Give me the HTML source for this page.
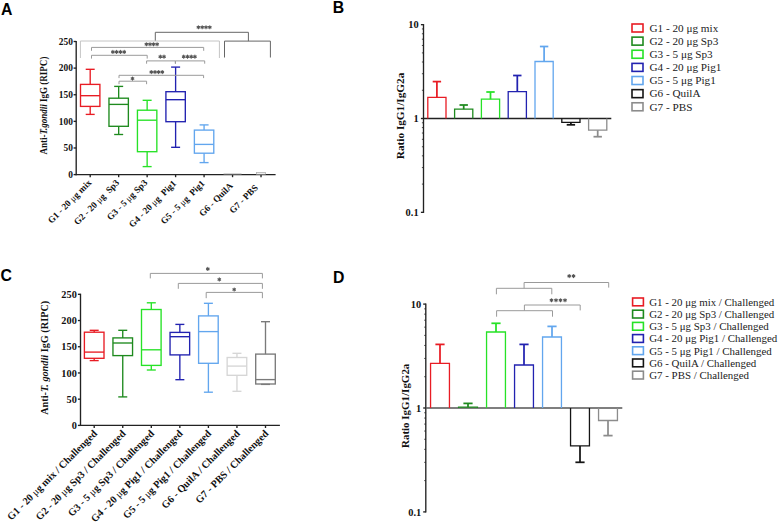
<!DOCTYPE html>
<html><head><meta charset="utf-8"><style>
html,body{margin:0;padding:0;background:#fff;width:778px;height:523px;overflow:hidden;font-family:"Liberation Serif",serif;}
svg{display:block}
</style></head><body>
<svg width="778" height="523" viewBox="0 0 778 523">
<rect width="778" height="523" fill="#fff"/>
<text x="0.90" y="15.20" font-family='"Liberation Sans", sans-serif' font-size="15.8" font-weight="bold" text-anchor="start" fill="#000">A</text>
<line x1="76.20" y1="40.90" x2="76.20" y2="175.20" stroke="#222" stroke-width="1.35"/>
<line x1="75.60" y1="174.60" x2="275.60" y2="174.60" stroke="#222" stroke-width="1.35"/>
<line x1="73.60" y1="174.60" x2="76.20" y2="174.60" stroke="#222" stroke-width="1.35"/>
<text x="72.90" y="177.90" font-family='"Liberation Serif", serif' font-size="9.4" font-weight="bold" text-anchor="end" fill="#111">0</text>
<line x1="73.60" y1="147.98" x2="76.20" y2="147.98" stroke="#222" stroke-width="1.35"/>
<text x="72.90" y="151.28" font-family='"Liberation Serif", serif' font-size="9.4" font-weight="bold" text-anchor="end" fill="#111">50</text>
<line x1="73.60" y1="121.36" x2="76.20" y2="121.36" stroke="#222" stroke-width="1.35"/>
<text x="72.90" y="124.66" font-family='"Liberation Serif", serif' font-size="9.4" font-weight="bold" text-anchor="end" fill="#111">100</text>
<line x1="73.60" y1="94.74" x2="76.20" y2="94.74" stroke="#222" stroke-width="1.35"/>
<text x="72.90" y="98.04" font-family='"Liberation Serif", serif' font-size="9.4" font-weight="bold" text-anchor="end" fill="#111">150</text>
<line x1="73.60" y1="68.12" x2="76.20" y2="68.12" stroke="#222" stroke-width="1.35"/>
<text x="72.90" y="71.42" font-family='"Liberation Serif", serif' font-size="9.4" font-weight="bold" text-anchor="end" fill="#111">200</text>
<line x1="73.60" y1="41.50" x2="76.20" y2="41.50" stroke="#222" stroke-width="1.35"/>
<text x="72.90" y="44.80" font-family='"Liberation Serif", serif' font-size="9.4" font-weight="bold" text-anchor="end" fill="#111">250</text>
<line x1="90.20" y1="174.60" x2="90.20" y2="177.20" stroke="#222" stroke-width="1.35"/>
<line x1="118.67" y1="174.60" x2="118.67" y2="177.20" stroke="#222" stroke-width="1.35"/>
<line x1="147.14" y1="174.60" x2="147.14" y2="177.20" stroke="#222" stroke-width="1.35"/>
<line x1="175.61" y1="174.60" x2="175.61" y2="177.20" stroke="#222" stroke-width="1.35"/>
<line x1="204.08" y1="174.60" x2="204.08" y2="177.20" stroke="#222" stroke-width="1.35"/>
<line x1="232.55" y1="174.60" x2="232.55" y2="177.20" stroke="#222" stroke-width="1.35"/>
<line x1="261.02" y1="174.60" x2="261.02" y2="177.20" stroke="#222" stroke-width="1.35"/>
<text x="47.00" y="105.60" font-family='"Liberation Serif", serif' font-size="9.6" font-weight="bold" text-anchor="middle" fill="#111" transform="rotate(-90 47.00 105.60)" textLength="98" lengthAdjust="spacingAndGlyphs">Anti-<tspan font-style="italic">T.gondii</tspan> IgG (RIPC)</text>
<line x1="90.20" y1="69.30" x2="90.20" y2="84.40" stroke="#e81c24" stroke-width="1.35"/>
<line x1="90.20" y1="106.40" x2="90.20" y2="114.40" stroke="#e81c24" stroke-width="1.35"/>
<line x1="85.70" y1="69.30" x2="94.70" y2="69.30" stroke="#e81c24" stroke-width="1.35"/>
<line x1="85.70" y1="114.40" x2="94.70" y2="114.40" stroke="#e81c24" stroke-width="1.35"/>
<rect x="80.50" y="84.40" width="19.40" height="22.00" fill="none" stroke="#e81c24" stroke-width="1.35"/>
<line x1="80.50" y1="95.70" x2="99.90" y2="95.70" stroke="#e81c24" stroke-width="1.35"/>
<line x1="118.67" y1="86.40" x2="118.67" y2="98.20" stroke="#1e8a1e" stroke-width="1.35"/>
<line x1="118.67" y1="126.30" x2="118.67" y2="134.50" stroke="#1e8a1e" stroke-width="1.35"/>
<line x1="114.17" y1="86.40" x2="123.17" y2="86.40" stroke="#1e8a1e" stroke-width="1.35"/>
<line x1="114.17" y1="134.50" x2="123.17" y2="134.50" stroke="#1e8a1e" stroke-width="1.35"/>
<rect x="108.97" y="98.20" width="19.40" height="28.10" fill="none" stroke="#1e8a1e" stroke-width="1.35"/>
<line x1="108.97" y1="104.40" x2="128.37" y2="104.40" stroke="#1e8a1e" stroke-width="1.35"/>
<line x1="147.14" y1="100.30" x2="147.14" y2="110.20" stroke="#26e226" stroke-width="1.35"/>
<line x1="147.14" y1="151.70" x2="147.14" y2="166.60" stroke="#26e226" stroke-width="1.35"/>
<line x1="142.64" y1="100.30" x2="151.64" y2="100.30" stroke="#26e226" stroke-width="1.35"/>
<line x1="142.64" y1="166.60" x2="151.64" y2="166.60" stroke="#26e226" stroke-width="1.35"/>
<rect x="137.44" y="110.20" width="19.40" height="41.50" fill="none" stroke="#26e226" stroke-width="1.35"/>
<line x1="137.44" y1="120.20" x2="156.84" y2="120.20" stroke="#26e226" stroke-width="1.35"/>
<line x1="175.61" y1="67.10" x2="175.61" y2="91.70" stroke="#2222b0" stroke-width="1.35"/>
<line x1="175.61" y1="121.70" x2="175.61" y2="147.30" stroke="#2222b0" stroke-width="1.35"/>
<line x1="171.11" y1="67.10" x2="180.11" y2="67.10" stroke="#2222b0" stroke-width="1.35"/>
<line x1="171.11" y1="147.30" x2="180.11" y2="147.30" stroke="#2222b0" stroke-width="1.35"/>
<rect x="165.91" y="91.70" width="19.40" height="30.00" fill="none" stroke="#2222b0" stroke-width="1.35"/>
<line x1="165.91" y1="99.70" x2="185.31" y2="99.70" stroke="#2222b0" stroke-width="1.35"/>
<line x1="204.08" y1="124.90" x2="204.08" y2="130.10" stroke="#62a6ee" stroke-width="1.35"/>
<line x1="204.08" y1="153.20" x2="204.08" y2="162.60" stroke="#62a6ee" stroke-width="1.35"/>
<line x1="199.58" y1="124.90" x2="208.58" y2="124.90" stroke="#62a6ee" stroke-width="1.35"/>
<line x1="199.58" y1="162.60" x2="208.58" y2="162.60" stroke="#62a6ee" stroke-width="1.35"/>
<rect x="194.38" y="130.10" width="19.40" height="23.10" fill="none" stroke="#62a6ee" stroke-width="1.35"/>
<line x1="194.38" y1="144.40" x2="213.78" y2="144.40" stroke="#62a6ee" stroke-width="1.35"/>
<rect x="256.52" y="172.40" width="9.00" height="1.80" fill="none" stroke="#b0b0b0" stroke-width="0.8"/>
<line x1="223.55" y1="174.20" x2="241.55" y2="174.20" stroke="#777" stroke-width="1"/>
<text x="92.10" y="183.30" font-family='"Liberation Serif", serif' font-size="9.2" font-weight="bold" text-anchor="end" fill="#111" transform="rotate(-45 92.10 183.30)" xml:space="preserve">G1 - 20 <tspan font-weight="normal">&#956;</tspan>g mix</text>
<text x="119.87" y="183.30" font-family='"Liberation Serif", serif' font-size="9.2" font-weight="bold" text-anchor="end" fill="#111" transform="rotate(-45 119.87 183.30)" xml:space="preserve">G2 - 20 <tspan font-weight="normal">&#956;</tspan>g  Sp3</text>
<text x="147.94" y="183.30" font-family='"Liberation Serif", serif' font-size="9.2" font-weight="bold" text-anchor="end" fill="#111" transform="rotate(-45 147.94 183.30)" xml:space="preserve">G3 - 5 <tspan font-weight="normal">&#956;</tspan>g Sp3</text>
<text x="176.71" y="183.90" font-family='"Liberation Serif", serif' font-size="9.2" font-weight="bold" text-anchor="end" fill="#111" transform="rotate(-45 176.71 183.90)" xml:space="preserve">G4 - 20 <tspan font-weight="normal">&#956;</tspan>g  Pig1</text>
<text x="205.18" y="183.90" font-family='"Liberation Serif", serif' font-size="9.2" font-weight="bold" text-anchor="end" fill="#111" transform="rotate(-45 205.18 183.90)" xml:space="preserve">G5 - 5 <tspan font-weight="normal">&#956;</tspan>g  Pig1</text>
<text x="233.45" y="186.40" font-family='"Liberation Serif", serif' font-size="9.2" font-weight="bold" text-anchor="end" fill="#111" transform="rotate(-45 233.45 186.40)" xml:space="preserve">G6 - QuilA</text>
<text x="258.52" y="188.40" font-family='"Liberation Serif", serif' font-size="9.2" font-weight="bold" text-anchor="end" fill="#111" transform="rotate(-45 258.52 188.40)" xml:space="preserve">G7 - PBS</text>
<polyline fill="none" stroke="#c4c4c4" stroke-width="1" points="80.40,58.00 80.40,41.00 219.40,41.00 219.40,58.00"/>
<polyline fill="none" stroke="#9a9a9a" stroke-width="1" points="91.50,50.80 91.50,47.40 203.70,47.40 203.70,50.80"/>
<g stroke="#555" stroke-width="1.1" stroke-linecap="round"><line x1="112.90" y1="50.40" x2="112.90" y2="53.40"/><line x1="111.59" y1="51.15" x2="114.21" y2="52.65"/><line x1="111.59" y1="52.65" x2="114.21" y2="51.15"/></g>
<g stroke="#555" stroke-width="1.1" stroke-linecap="round"><line x1="116.60" y1="50.40" x2="116.60" y2="53.40"/><line x1="115.29" y1="51.15" x2="117.91" y2="52.65"/><line x1="115.29" y1="52.65" x2="117.91" y2="51.15"/></g>
<g stroke="#555" stroke-width="1.1" stroke-linecap="round"><line x1="120.40" y1="50.40" x2="120.40" y2="53.40"/><line x1="119.09" y1="51.15" x2="121.71" y2="52.65"/><line x1="119.09" y1="52.65" x2="121.71" y2="51.15"/></g>
<g stroke="#555" stroke-width="1.1" stroke-linecap="round"><line x1="124.20" y1="50.40" x2="124.20" y2="53.40"/><line x1="122.89" y1="51.15" x2="125.51" y2="52.65"/><line x1="122.89" y1="52.65" x2="125.51" y2="51.15"/></g>
<polyline fill="none" stroke="#9a9a9a" stroke-width="1" points="91.50,58.60 91.50,55.30 147.20,55.30 147.20,58.60"/>
<g stroke="#555" stroke-width="1.1" stroke-linecap="round"><line x1="146.40" y1="42.70" x2="146.40" y2="45.70"/><line x1="145.09" y1="43.45" x2="147.71" y2="44.95"/><line x1="145.09" y1="44.95" x2="147.71" y2="43.45"/></g>
<g stroke="#555" stroke-width="1.1" stroke-linecap="round"><line x1="150.00" y1="42.70" x2="150.00" y2="45.70"/><line x1="148.69" y1="43.45" x2="151.31" y2="44.95"/><line x1="148.69" y1="44.95" x2="151.31" y2="43.45"/></g>
<g stroke="#555" stroke-width="1.1" stroke-linecap="round"><line x1="153.50" y1="42.70" x2="153.50" y2="45.70"/><line x1="152.19" y1="43.45" x2="154.81" y2="44.95"/><line x1="152.19" y1="44.95" x2="154.81" y2="43.45"/></g>
<g stroke="#555" stroke-width="1.1" stroke-linecap="round"><line x1="157.10" y1="42.70" x2="157.10" y2="45.70"/><line x1="155.79" y1="43.45" x2="158.41" y2="44.95"/><line x1="155.79" y1="44.95" x2="158.41" y2="43.45"/></g>
<polyline fill="none" stroke="#9a9a9a" stroke-width="1" points="146.60,63.70 146.60,60.90 175.40,60.90 175.40,63.70"/>
<polyline fill="none" stroke="#9a9a9a" stroke-width="1" points="175.40,63.70 175.40,60.90 204.70,60.90 204.70,63.70"/>
<g stroke="#555" stroke-width="1.1" stroke-linecap="round"><line x1="160.30" y1="55.15" x2="160.30" y2="58.15"/><line x1="159.00" y1="55.90" x2="161.61" y2="57.40"/><line x1="159.00" y1="57.40" x2="161.61" y2="55.90"/></g>
<g stroke="#555" stroke-width="1.1" stroke-linecap="round"><line x1="164.00" y1="55.15" x2="164.00" y2="58.15"/><line x1="162.69" y1="55.90" x2="165.31" y2="57.40"/><line x1="162.69" y1="57.40" x2="165.31" y2="55.90"/></g>
<g stroke="#555" stroke-width="1.1" stroke-linecap="round"><line x1="183.70" y1="55.15" x2="183.70" y2="58.15"/><line x1="182.39" y1="55.90" x2="185.00" y2="57.40"/><line x1="182.39" y1="57.40" x2="185.00" y2="55.90"/></g>
<g stroke="#555" stroke-width="1.1" stroke-linecap="round"><line x1="187.50" y1="55.15" x2="187.50" y2="58.15"/><line x1="186.19" y1="55.90" x2="188.81" y2="57.40"/><line x1="186.19" y1="57.40" x2="188.81" y2="55.90"/></g>
<g stroke="#555" stroke-width="1.1" stroke-linecap="round"><line x1="191.20" y1="55.15" x2="191.20" y2="58.15"/><line x1="189.89" y1="55.90" x2="192.50" y2="57.40"/><line x1="189.89" y1="57.40" x2="192.50" y2="55.90"/></g>
<g stroke="#555" stroke-width="1.1" stroke-linecap="round"><line x1="194.90" y1="55.15" x2="194.90" y2="58.15"/><line x1="193.59" y1="55.90" x2="196.21" y2="57.40"/><line x1="193.59" y1="57.40" x2="196.21" y2="55.90"/></g>
<polyline fill="none" stroke="#9a9a9a" stroke-width="1" points="119.00,78.10 119.00,75.30 203.60,75.30 203.60,78.10"/>
<g stroke="#555" stroke-width="1.1" stroke-linecap="round"><line x1="151.30" y1="70.60" x2="151.30" y2="73.60"/><line x1="150.00" y1="71.35" x2="152.61" y2="72.85"/><line x1="150.00" y1="72.85" x2="152.61" y2="71.35"/></g>
<g stroke="#555" stroke-width="1.1" stroke-linecap="round"><line x1="155.00" y1="70.60" x2="155.00" y2="73.60"/><line x1="153.69" y1="71.35" x2="156.31" y2="72.85"/><line x1="153.69" y1="72.85" x2="156.31" y2="71.35"/></g>
<g stroke="#555" stroke-width="1.1" stroke-linecap="round"><line x1="158.60" y1="70.60" x2="158.60" y2="73.60"/><line x1="157.29" y1="71.35" x2="159.91" y2="72.85"/><line x1="157.29" y1="72.85" x2="159.91" y2="71.35"/></g>
<g stroke="#555" stroke-width="1.1" stroke-linecap="round"><line x1="162.30" y1="70.60" x2="162.30" y2="73.60"/><line x1="161.00" y1="71.35" x2="163.61" y2="72.85"/><line x1="161.00" y1="72.85" x2="163.61" y2="71.35"/></g>
<polyline fill="none" stroke="#9a9a9a" stroke-width="1" points="119.00,84.20 119.00,81.20 146.60,81.20 146.60,84.20"/>
<g stroke="#555" stroke-width="1.1" stroke-linecap="round"><line x1="132.50" y1="77.10" x2="132.50" y2="80.10"/><line x1="131.19" y1="77.85" x2="133.81" y2="79.35"/><line x1="131.19" y1="79.35" x2="133.81" y2="77.85"/></g>
<polyline fill="none" stroke="#666" stroke-width="1" points="224.50,57.50 224.50,41.10 270.40,41.10 270.40,57.50"/>
<polyline fill="none" stroke="#666" stroke-width="1" points="155.30,40.60 155.30,32.30 248.40,32.30 248.40,41.10"/>
<g stroke="#555" stroke-width="1.1" stroke-linecap="round"><line x1="198.40" y1="25.75" x2="198.40" y2="28.75"/><line x1="197.09" y1="26.50" x2="199.71" y2="28.00"/><line x1="197.09" y1="28.00" x2="199.71" y2="26.50"/></g>
<g stroke="#555" stroke-width="1.1" stroke-linecap="round"><line x1="202.20" y1="25.75" x2="202.20" y2="28.75"/><line x1="200.89" y1="26.50" x2="203.50" y2="28.00"/><line x1="200.89" y1="28.00" x2="203.50" y2="26.50"/></g>
<g stroke="#555" stroke-width="1.1" stroke-linecap="round"><line x1="206.00" y1="25.75" x2="206.00" y2="28.75"/><line x1="204.69" y1="26.50" x2="207.31" y2="28.00"/><line x1="204.69" y1="28.00" x2="207.31" y2="26.50"/></g>
<g stroke="#555" stroke-width="1.1" stroke-linecap="round"><line x1="209.80" y1="25.75" x2="209.80" y2="28.75"/><line x1="208.50" y1="26.50" x2="211.11" y2="28.00"/><line x1="208.50" y1="28.00" x2="211.11" y2="26.50"/></g>
<text x="332.80" y="13.00" font-family='"Liberation Sans", sans-serif' font-size="15.8" font-weight="bold" text-anchor="start" fill="#000">B</text>
<line x1="423.50" y1="24.05" x2="423.50" y2="212.95" stroke="#222" stroke-width="1.35"/>
<line x1="420.90" y1="24.65" x2="423.50" y2="24.65" stroke="#222" stroke-width="1.35"/>
<line x1="420.90" y1="118.50" x2="423.50" y2="118.50" stroke="#222" stroke-width="1.35"/>
<line x1="420.90" y1="212.35" x2="423.50" y2="212.35" stroke="#222" stroke-width="1.35"/>
<line x1="421.90" y1="90.25" x2="423.50" y2="90.25" stroke="#222" stroke-width="0.8"/>
<line x1="421.90" y1="73.72" x2="423.50" y2="73.72" stroke="#222" stroke-width="0.8"/>
<line x1="421.90" y1="62.00" x2="423.50" y2="62.00" stroke="#222" stroke-width="0.8"/>
<line x1="421.90" y1="52.90" x2="423.50" y2="52.90" stroke="#222" stroke-width="0.8"/>
<line x1="421.90" y1="45.47" x2="423.50" y2="45.47" stroke="#222" stroke-width="0.8"/>
<line x1="421.90" y1="39.19" x2="423.50" y2="39.19" stroke="#222" stroke-width="0.8"/>
<line x1="421.90" y1="33.75" x2="423.50" y2="33.75" stroke="#222" stroke-width="0.8"/>
<line x1="421.90" y1="28.94" x2="423.50" y2="28.94" stroke="#222" stroke-width="0.8"/>
<line x1="421.90" y1="184.10" x2="423.50" y2="184.10" stroke="#222" stroke-width="0.8"/>
<line x1="421.90" y1="167.57" x2="423.50" y2="167.57" stroke="#222" stroke-width="0.8"/>
<line x1="421.90" y1="155.85" x2="423.50" y2="155.85" stroke="#222" stroke-width="0.8"/>
<line x1="421.90" y1="146.75" x2="423.50" y2="146.75" stroke="#222" stroke-width="0.8"/>
<line x1="421.90" y1="139.32" x2="423.50" y2="139.32" stroke="#222" stroke-width="0.8"/>
<line x1="421.90" y1="133.04" x2="423.50" y2="133.04" stroke="#222" stroke-width="0.8"/>
<line x1="421.90" y1="127.60" x2="423.50" y2="127.60" stroke="#222" stroke-width="0.8"/>
<line x1="421.90" y1="122.79" x2="423.50" y2="122.79" stroke="#222" stroke-width="0.8"/>
<text x="418.60" y="28.25" font-family='"Liberation Serif", serif' font-size="10.4" font-weight="bold" text-anchor="end" fill="#111">10</text>
<text x="418.60" y="122.10" font-family='"Liberation Serif", serif' font-size="10.4" font-weight="bold" text-anchor="end" fill="#111">1</text>
<text x="418.60" y="215.95" font-family='"Liberation Serif", serif' font-size="10.4" font-weight="bold" text-anchor="end" fill="#111">0.1</text>
<line x1="423.50" y1="118.50" x2="611.30" y2="118.50" stroke="#222" stroke-width="1.3"/>
<text x="404.50" y="115.90" font-family='"Liberation Serif", serif' font-size="10.2" font-weight="bold" text-anchor="middle" fill="#111" transform="rotate(-90 404.50 115.90)" textLength="86.5" lengthAdjust="spacingAndGlyphs">Ratio IgG1/IgG2a</text>
<polyline fill="none" stroke="#e81c24" stroke-width="1.3" points="427.80,118.50 427.80,97.30 446.00,97.30 446.00,118.50"/>
<line x1="436.90" y1="97.30" x2="436.90" y2="81.60" stroke="#e81c24" stroke-width="1.75"/>
<line x1="432.70" y1="81.60" x2="441.10" y2="81.60" stroke="#e81c24" stroke-width="1.75"/>
<polyline fill="none" stroke="#1e8a1e" stroke-width="1.3" points="454.60,118.50 454.60,109.20 472.80,109.20 472.80,118.50"/>
<line x1="463.70" y1="109.20" x2="463.70" y2="105.00" stroke="#1e8a1e" stroke-width="1.75"/>
<line x1="459.50" y1="105.00" x2="467.90" y2="105.00" stroke="#1e8a1e" stroke-width="1.75"/>
<polyline fill="none" stroke="#26e226" stroke-width="1.3" points="481.40,118.50 481.40,99.20 499.60,99.20 499.60,118.50"/>
<line x1="490.50" y1="99.20" x2="490.50" y2="92.00" stroke="#26e226" stroke-width="1.75"/>
<line x1="486.30" y1="92.00" x2="494.70" y2="92.00" stroke="#26e226" stroke-width="1.75"/>
<polyline fill="none" stroke="#2222b0" stroke-width="1.3" points="508.20,118.50 508.20,91.60 526.40,91.60 526.40,118.50"/>
<line x1="517.30" y1="91.60" x2="517.30" y2="75.50" stroke="#2222b0" stroke-width="1.75"/>
<line x1="513.10" y1="75.50" x2="521.50" y2="75.50" stroke="#2222b0" stroke-width="1.75"/>
<polyline fill="none" stroke="#62a6ee" stroke-width="1.3" points="535.00,118.50 535.00,61.50 553.20,61.50 553.20,118.50"/>
<line x1="544.10" y1="61.50" x2="544.10" y2="46.50" stroke="#62a6ee" stroke-width="1.75"/>
<line x1="539.90" y1="46.50" x2="548.30" y2="46.50" stroke="#62a6ee" stroke-width="1.75"/>
<polyline fill="none" stroke="#141414" stroke-width="1.3" points="561.80,118.50 561.80,122.40 580.00,122.40 580.00,118.50"/>
<line x1="570.90" y1="122.40" x2="570.90" y2="124.80" stroke="#141414" stroke-width="1.75"/>
<line x1="566.70" y1="124.80" x2="575.10" y2="124.80" stroke="#141414" stroke-width="1.75"/>
<polyline fill="none" stroke="#8c8c8c" stroke-width="1.3" points="588.60,118.50 588.60,130.20 606.80,130.20 606.80,118.50"/>
<line x1="597.70" y1="130.20" x2="597.70" y2="136.70" stroke="#8c8c8c" stroke-width="1.75"/>
<line x1="593.50" y1="136.70" x2="601.90" y2="136.70" stroke="#8c8c8c" stroke-width="1.75"/>
<rect x="632.00" y="24.00" width="11.00" height="8.00" fill="none" stroke="#e81c24" stroke-width="1.6"/>
<text x="649.50" y="31.80" font-family='"Liberation Serif", serif' font-size="11.2" font-weight="normal" text-anchor="start" fill="#222">G1 - 20 &#956;g mix</text>
<rect x="632.00" y="37.13" width="11.00" height="8.00" fill="none" stroke="#1e8a1e" stroke-width="1.6"/>
<text x="649.50" y="44.93" font-family='"Liberation Serif", serif' font-size="11.2" font-weight="normal" text-anchor="start" fill="#222">G2 - 20 &#956;g Sp3</text>
<rect x="632.00" y="50.26" width="11.00" height="8.00" fill="none" stroke="#26e226" stroke-width="1.6"/>
<text x="649.50" y="58.06" font-family='"Liberation Serif", serif' font-size="11.2" font-weight="normal" text-anchor="start" fill="#222">G3 - 5 &#956;g Sp3</text>
<rect x="632.00" y="63.39" width="11.00" height="8.00" fill="none" stroke="#2222b0" stroke-width="1.6"/>
<text x="649.50" y="71.19" font-family='"Liberation Serif", serif' font-size="11.2" font-weight="normal" text-anchor="start" fill="#222">G4 - 20 &#956;g Pig1</text>
<rect x="632.00" y="76.52" width="11.00" height="8.00" fill="none" stroke="#62a6ee" stroke-width="1.6"/>
<text x="649.50" y="84.32" font-family='"Liberation Serif", serif' font-size="11.2" font-weight="normal" text-anchor="start" fill="#222">G5 - 5 &#956;g Pig1</text>
<rect x="632.00" y="89.65" width="11.00" height="8.00" fill="none" stroke="#141414" stroke-width="1.6"/>
<text x="649.50" y="97.45" font-family='"Liberation Serif", serif' font-size="11.2" font-weight="normal" text-anchor="start" fill="#222">G6 - QuilA</text>
<rect x="632.00" y="102.78" width="11.00" height="8.00" fill="none" stroke="#8c8c8c" stroke-width="1.6"/>
<text x="649.50" y="110.58" font-family='"Liberation Serif", serif' font-size="11.2" font-weight="normal" text-anchor="start" fill="#222">G7 - PBS</text>
<text x="0.50" y="281.40" font-family='"Liberation Sans", sans-serif' font-size="15.8" font-weight="bold" text-anchor="start" fill="#000">C</text>
<line x1="80.50" y1="293.70" x2="80.50" y2="426.00" stroke="#222" stroke-width="1.35"/>
<line x1="79.90" y1="425.40" x2="279.90" y2="425.40" stroke="#222" stroke-width="1.35"/>
<line x1="77.90" y1="425.40" x2="80.50" y2="425.40" stroke="#222" stroke-width="1.35"/>
<text x="76.80" y="429.00" font-family='"Liberation Serif", serif' font-size="10.3" font-weight="bold" text-anchor="end" fill="#111">0</text>
<line x1="77.90" y1="399.18" x2="80.50" y2="399.18" stroke="#222" stroke-width="1.35"/>
<text x="76.80" y="402.78" font-family='"Liberation Serif", serif' font-size="10.3" font-weight="bold" text-anchor="end" fill="#111">50</text>
<line x1="77.90" y1="372.96" x2="80.50" y2="372.96" stroke="#222" stroke-width="1.35"/>
<text x="76.80" y="376.56" font-family='"Liberation Serif", serif' font-size="10.3" font-weight="bold" text-anchor="end" fill="#111">100</text>
<line x1="77.90" y1="346.74" x2="80.50" y2="346.74" stroke="#222" stroke-width="1.35"/>
<text x="76.80" y="350.34" font-family='"Liberation Serif", serif' font-size="10.3" font-weight="bold" text-anchor="end" fill="#111">150</text>
<line x1="77.90" y1="320.52" x2="80.50" y2="320.52" stroke="#222" stroke-width="1.35"/>
<text x="76.80" y="324.12" font-family='"Liberation Serif", serif' font-size="10.3" font-weight="bold" text-anchor="end" fill="#111">200</text>
<line x1="77.90" y1="294.30" x2="80.50" y2="294.30" stroke="#222" stroke-width="1.35"/>
<text x="76.80" y="297.90" font-family='"Liberation Serif", serif' font-size="10.3" font-weight="bold" text-anchor="end" fill="#111">250</text>
<line x1="94.20" y1="425.40" x2="94.20" y2="428.00" stroke="#222" stroke-width="1.35"/>
<line x1="122.75" y1="425.40" x2="122.75" y2="428.00" stroke="#222" stroke-width="1.35"/>
<line x1="151.30" y1="425.40" x2="151.30" y2="428.00" stroke="#222" stroke-width="1.35"/>
<line x1="179.85" y1="425.40" x2="179.85" y2="428.00" stroke="#222" stroke-width="1.35"/>
<line x1="208.40" y1="425.40" x2="208.40" y2="428.00" stroke="#222" stroke-width="1.35"/>
<line x1="236.95" y1="425.40" x2="236.95" y2="428.00" stroke="#222" stroke-width="1.35"/>
<line x1="265.50" y1="425.40" x2="265.50" y2="428.00" stroke="#222" stroke-width="1.35"/>
<text x="47.60" y="357.80" font-family='"Liberation Serif", serif' font-size="10.2" font-weight="bold" text-anchor="middle" fill="#111" transform="rotate(-90 47.60 357.80)" textLength="114" lengthAdjust="spacingAndGlyphs">Anti-<tspan font-style="italic">T. gondii</tspan> IgG (RIPC)</text>
<line x1="94.20" y1="330.30" x2="94.20" y2="332.20" stroke="#e81c24" stroke-width="1.35"/>
<line x1="94.20" y1="358.30" x2="94.20" y2="360.60" stroke="#e81c24" stroke-width="1.35"/>
<line x1="89.70" y1="330.30" x2="98.70" y2="330.30" stroke="#e81c24" stroke-width="1.35"/>
<line x1="89.70" y1="360.60" x2="98.70" y2="360.60" stroke="#e81c24" stroke-width="1.35"/>
<rect x="84.40" y="332.20" width="19.60" height="26.10" fill="none" stroke="#e81c24" stroke-width="1.35"/>
<line x1="84.40" y1="352.10" x2="104.00" y2="352.10" stroke="#e81c24" stroke-width="1.35"/>
<line x1="122.75" y1="330.30" x2="122.75" y2="337.90" stroke="#1e8a1e" stroke-width="1.35"/>
<line x1="122.75" y1="355.60" x2="122.75" y2="396.90" stroke="#1e8a1e" stroke-width="1.35"/>
<line x1="118.25" y1="330.30" x2="127.25" y2="330.30" stroke="#1e8a1e" stroke-width="1.35"/>
<line x1="118.25" y1="396.90" x2="127.25" y2="396.90" stroke="#1e8a1e" stroke-width="1.35"/>
<rect x="112.95" y="337.90" width="19.60" height="17.70" fill="none" stroke="#1e8a1e" stroke-width="1.35"/>
<line x1="112.95" y1="343.00" x2="132.55" y2="343.00" stroke="#1e8a1e" stroke-width="1.35"/>
<line x1="151.30" y1="302.80" x2="151.30" y2="309.50" stroke="#26e226" stroke-width="1.35"/>
<line x1="151.30" y1="365.40" x2="151.30" y2="370.00" stroke="#26e226" stroke-width="1.35"/>
<line x1="146.80" y1="302.80" x2="155.80" y2="302.80" stroke="#26e226" stroke-width="1.35"/>
<line x1="146.80" y1="370.00" x2="155.80" y2="370.00" stroke="#26e226" stroke-width="1.35"/>
<rect x="141.50" y="309.50" width="19.60" height="55.90" fill="none" stroke="#26e226" stroke-width="1.35"/>
<line x1="141.50" y1="349.80" x2="161.10" y2="349.80" stroke="#26e226" stroke-width="1.35"/>
<line x1="179.85" y1="324.40" x2="179.85" y2="332.40" stroke="#2222b0" stroke-width="1.35"/>
<line x1="179.85" y1="354.90" x2="179.85" y2="379.70" stroke="#2222b0" stroke-width="1.35"/>
<line x1="175.35" y1="324.40" x2="184.35" y2="324.40" stroke="#2222b0" stroke-width="1.35"/>
<line x1="175.35" y1="379.70" x2="184.35" y2="379.70" stroke="#2222b0" stroke-width="1.35"/>
<rect x="170.05" y="332.40" width="19.60" height="22.50" fill="none" stroke="#2222b0" stroke-width="1.35"/>
<line x1="170.05" y1="336.70" x2="189.65" y2="336.70" stroke="#2222b0" stroke-width="1.35"/>
<line x1="208.40" y1="303.30" x2="208.40" y2="315.90" stroke="#62a6ee" stroke-width="1.35"/>
<line x1="208.40" y1="363.30" x2="208.40" y2="392.20" stroke="#62a6ee" stroke-width="1.35"/>
<line x1="203.90" y1="303.30" x2="212.90" y2="303.30" stroke="#62a6ee" stroke-width="1.35"/>
<line x1="203.90" y1="392.20" x2="212.90" y2="392.20" stroke="#62a6ee" stroke-width="1.35"/>
<rect x="198.60" y="315.90" width="19.60" height="47.40" fill="none" stroke="#62a6ee" stroke-width="1.35"/>
<line x1="198.60" y1="331.60" x2="218.20" y2="331.60" stroke="#62a6ee" stroke-width="1.35"/>
<line x1="236.95" y1="353.30" x2="236.95" y2="357.50" stroke="#d6d6d6" stroke-width="1.35"/>
<line x1="236.95" y1="375.30" x2="236.95" y2="391.30" stroke="#d6d6d6" stroke-width="1.35"/>
<line x1="232.45" y1="353.30" x2="241.45" y2="353.30" stroke="#d6d6d6" stroke-width="1.35"/>
<line x1="232.45" y1="391.30" x2="241.45" y2="391.30" stroke="#d6d6d6" stroke-width="1.35"/>
<rect x="227.15" y="357.50" width="19.60" height="17.80" fill="none" stroke="#d6d6d6" stroke-width="1.35"/>
<line x1="227.15" y1="366.10" x2="246.75" y2="366.10" stroke="#d6d6d6" stroke-width="1.35"/>
<line x1="265.50" y1="321.70" x2="265.50" y2="354.10" stroke="#7a7a7a" stroke-width="1.35"/>
<line x1="265.50" y1="384.00" x2="265.50" y2="384.40" stroke="#7a7a7a" stroke-width="1.35"/>
<line x1="261.00" y1="321.70" x2="270.00" y2="321.70" stroke="#7a7a7a" stroke-width="1.35"/>
<line x1="261.00" y1="384.40" x2="270.00" y2="384.40" stroke="#7a7a7a" stroke-width="1.35"/>
<rect x="255.70" y="354.10" width="19.60" height="29.90" fill="none" stroke="#7a7a7a" stroke-width="1.35"/>
<line x1="255.70" y1="379.60" x2="275.30" y2="379.60" stroke="#7a7a7a" stroke-width="1.35"/>
<text x="97.70" y="434.30" font-family='"Liberation Serif", serif' font-size="10.3" font-weight="bold" text-anchor="end" fill="#111" transform="rotate(-45 97.70 434.30)">G1 - 20 <tspan font-weight="normal">&#956;</tspan>g mix / Challenged</text>
<text x="126.25" y="434.30" font-family='"Liberation Serif", serif' font-size="10.3" font-weight="bold" text-anchor="end" fill="#111" transform="rotate(-45 126.25 434.30)">G2 - 20 <tspan font-weight="normal">&#956;</tspan>g Sp3 / Challenged</text>
<text x="154.80" y="434.30" font-family='"Liberation Serif", serif' font-size="10.3" font-weight="bold" text-anchor="end" fill="#111" transform="rotate(-45 154.80 434.30)">G3 - 5 <tspan font-weight="normal">&#956;</tspan>g Sp3 / Challenged</text>
<text x="183.35" y="434.30" font-family='"Liberation Serif", serif' font-size="10.3" font-weight="bold" text-anchor="end" fill="#111" transform="rotate(-45 183.35 434.30)">G4 - 20 <tspan font-weight="normal">&#956;</tspan>g Pig1 / Challenged</text>
<text x="211.90" y="434.30" font-family='"Liberation Serif", serif' font-size="10.3" font-weight="bold" text-anchor="end" fill="#111" transform="rotate(-45 211.90 434.30)">G5 - 5 <tspan font-weight="normal">&#956;</tspan>g Pig1 / Challenged</text>
<text x="240.45" y="434.30" font-family='"Liberation Serif", serif' font-size="10.3" font-weight="bold" text-anchor="end" fill="#111" transform="rotate(-45 240.45 434.30)">G6 - QuilA / Challenged</text>
<text x="269.00" y="434.30" font-family='"Liberation Serif", serif' font-size="10.3" font-weight="bold" text-anchor="end" fill="#111" transform="rotate(-45 269.00 434.30)">G7 - PBS / Challenged</text>
<polyline fill="none" stroke="#9a9a9a" stroke-width="1" points="150.30,278.40 150.30,273.40 262.40,273.40 262.40,278.40"/>
<g stroke="#555" stroke-width="1.1" stroke-linecap="round"><line x1="207.80" y1="267.40" x2="207.80" y2="270.40"/><line x1="206.50" y1="268.15" x2="209.11" y2="269.65"/><line x1="206.50" y1="269.65" x2="209.11" y2="268.15"/></g>
<polyline fill="none" stroke="#9a9a9a" stroke-width="1" points="178.30,288.80 178.30,283.40 262.40,283.40 262.40,288.80"/>
<g stroke="#555" stroke-width="1.1" stroke-linecap="round"><line x1="219.30" y1="277.90" x2="219.30" y2="280.90"/><line x1="218.00" y1="278.65" x2="220.61" y2="280.15"/><line x1="218.00" y1="280.15" x2="220.61" y2="278.65"/></g>
<polyline fill="none" stroke="#9a9a9a" stroke-width="1" points="206.20,298.20 206.20,292.40 262.40,292.40 262.40,298.20"/>
<g stroke="#555" stroke-width="1.1" stroke-linecap="round"><line x1="234.20" y1="288.00" x2="234.20" y2="291.00"/><line x1="232.89" y1="288.75" x2="235.50" y2="290.25"/><line x1="232.89" y1="290.25" x2="235.50" y2="288.75"/></g>
<text x="332.90" y="283.30" font-family='"Liberation Sans", sans-serif' font-size="15.8" font-weight="bold" text-anchor="start" fill="#000">D</text>
<line x1="425.80" y1="303.50" x2="425.80" y2="512.50" stroke="#222" stroke-width="1.35"/>
<line x1="423.20" y1="304.10" x2="425.80" y2="304.10" stroke="#222" stroke-width="1.35"/>
<line x1="423.20" y1="408.00" x2="425.80" y2="408.00" stroke="#222" stroke-width="1.35"/>
<line x1="423.20" y1="511.90" x2="425.80" y2="511.90" stroke="#222" stroke-width="1.35"/>
<line x1="424.20" y1="376.72" x2="425.80" y2="376.72" stroke="#222" stroke-width="0.8"/>
<line x1="424.20" y1="358.43" x2="425.80" y2="358.43" stroke="#222" stroke-width="0.8"/>
<line x1="424.20" y1="345.45" x2="425.80" y2="345.45" stroke="#222" stroke-width="0.8"/>
<line x1="424.20" y1="335.38" x2="425.80" y2="335.38" stroke="#222" stroke-width="0.8"/>
<line x1="424.20" y1="327.15" x2="425.80" y2="327.15" stroke="#222" stroke-width="0.8"/>
<line x1="424.20" y1="320.19" x2="425.80" y2="320.19" stroke="#222" stroke-width="0.8"/>
<line x1="424.20" y1="314.17" x2="425.80" y2="314.17" stroke="#222" stroke-width="0.8"/>
<line x1="424.20" y1="308.85" x2="425.80" y2="308.85" stroke="#222" stroke-width="0.8"/>
<line x1="424.20" y1="480.62" x2="425.80" y2="480.62" stroke="#222" stroke-width="0.8"/>
<line x1="424.20" y1="462.33" x2="425.80" y2="462.33" stroke="#222" stroke-width="0.8"/>
<line x1="424.20" y1="449.35" x2="425.80" y2="449.35" stroke="#222" stroke-width="0.8"/>
<line x1="424.20" y1="439.28" x2="425.80" y2="439.28" stroke="#222" stroke-width="0.8"/>
<line x1="424.20" y1="431.05" x2="425.80" y2="431.05" stroke="#222" stroke-width="0.8"/>
<line x1="424.20" y1="424.09" x2="425.80" y2="424.09" stroke="#222" stroke-width="0.8"/>
<line x1="424.20" y1="418.07" x2="425.80" y2="418.07" stroke="#222" stroke-width="0.8"/>
<line x1="424.20" y1="412.75" x2="425.80" y2="412.75" stroke="#222" stroke-width="0.8"/>
<text x="421.20" y="307.70" font-family='"Liberation Serif", serif' font-size="10.4" font-weight="bold" text-anchor="end" fill="#111">10</text>
<text x="421.20" y="411.60" font-family='"Liberation Serif", serif' font-size="10.4" font-weight="bold" text-anchor="end" fill="#111">1</text>
<text x="421.20" y="515.50" font-family='"Liberation Serif", serif' font-size="10.4" font-weight="bold" text-anchor="end" fill="#111">0.1</text>
<line x1="425.80" y1="408.00" x2="622.30" y2="408.00" stroke="#555" stroke-width="1.3"/>
<text x="409.00" y="405.80" font-family='"Liberation Serif", serif' font-size="9.8" font-weight="bold" text-anchor="middle" fill="#111" transform="rotate(-90 409.00 405.80)" textLength="84.3" lengthAdjust="spacingAndGlyphs">Ratio IgG1/IgG2a</text>
<polyline fill="none" stroke="#e81c24" stroke-width="1.3" points="430.55,408.00 430.55,363.40 449.45,363.40 449.45,408.00"/>
<line x1="440.00" y1="363.40" x2="440.00" y2="344.40" stroke="#e81c24" stroke-width="1.75"/>
<line x1="435.40" y1="344.40" x2="444.60" y2="344.40" stroke="#e81c24" stroke-width="1.75"/>
<polyline fill="none" stroke="#1e8a1e" stroke-width="1.3" points="458.55,408.00 458.55,407.20 477.45,407.20 477.45,408.00"/>
<line x1="468.00" y1="407.20" x2="468.00" y2="403.40" stroke="#1e8a1e" stroke-width="1.75"/>
<line x1="463.40" y1="403.40" x2="472.60" y2="403.40" stroke="#1e8a1e" stroke-width="1.75"/>
<polyline fill="none" stroke="#26e226" stroke-width="1.3" points="486.55,408.00 486.55,332.00 505.45,332.00 505.45,408.00"/>
<line x1="496.00" y1="332.00" x2="496.00" y2="323.30" stroke="#26e226" stroke-width="1.75"/>
<line x1="491.40" y1="323.30" x2="500.60" y2="323.30" stroke="#26e226" stroke-width="1.75"/>
<polyline fill="none" stroke="#2222b0" stroke-width="1.3" points="514.55,408.00 514.55,365.00 533.45,365.00 533.45,408.00"/>
<line x1="524.00" y1="365.00" x2="524.00" y2="344.40" stroke="#2222b0" stroke-width="1.75"/>
<line x1="519.40" y1="344.40" x2="528.60" y2="344.40" stroke="#2222b0" stroke-width="1.75"/>
<polyline fill="none" stroke="#62a6ee" stroke-width="1.3" points="542.55,408.00 542.55,337.00 561.45,337.00 561.45,408.00"/>
<line x1="552.00" y1="337.00" x2="552.00" y2="326.40" stroke="#62a6ee" stroke-width="1.75"/>
<line x1="547.40" y1="326.40" x2="556.60" y2="326.40" stroke="#62a6ee" stroke-width="1.75"/>
<polyline fill="none" stroke="#141414" stroke-width="1.3" points="570.55,408.00 570.55,445.90 589.45,445.90 589.45,408.00"/>
<line x1="580.00" y1="445.90" x2="580.00" y2="462.30" stroke="#141414" stroke-width="1.75"/>
<line x1="575.40" y1="462.30" x2="584.60" y2="462.30" stroke="#141414" stroke-width="1.75"/>
<polyline fill="none" stroke="#8c8c8c" stroke-width="1.3" points="598.55,408.00 598.55,420.50 617.45,420.50 617.45,408.00"/>
<line x1="608.00" y1="420.50" x2="608.00" y2="435.60" stroke="#8c8c8c" stroke-width="1.75"/>
<line x1="603.40" y1="435.60" x2="612.60" y2="435.60" stroke="#8c8c8c" stroke-width="1.75"/>
<polyline fill="none" stroke="#9a9a9a" stroke-width="1" points="496.40,294.30 496.40,288.30 551.80,288.30 551.80,294.30"/>
<polyline fill="none" stroke="#9a9a9a" stroke-width="1" points="524.10,288.30 524.10,282.50 608.70,282.50 608.70,287.60"/>
<g stroke="#555" stroke-width="1.1" stroke-linecap="round"><line x1="569.20" y1="274.60" x2="569.20" y2="277.60"/><line x1="567.90" y1="275.35" x2="570.50" y2="276.85"/><line x1="567.90" y1="276.85" x2="570.50" y2="275.35"/></g>
<g stroke="#555" stroke-width="1.1" stroke-linecap="round"><line x1="573.50" y1="274.60" x2="573.50" y2="277.60"/><line x1="572.20" y1="275.35" x2="574.80" y2="276.85"/><line x1="572.20" y1="276.85" x2="574.80" y2="275.35"/></g>
<polyline fill="none" stroke="#9a9a9a" stroke-width="1" points="496.60,316.70 496.60,310.70 552.50,310.70 552.50,316.70"/>
<polyline fill="none" stroke="#9a9a9a" stroke-width="1" points="524.40,310.70 524.40,305.00 580.20,305.00 580.20,310.40"/>
<g stroke="#555" stroke-width="1.1" stroke-linecap="round"><line x1="551.50" y1="298.70" x2="551.50" y2="301.70"/><line x1="550.20" y1="299.45" x2="552.80" y2="300.95"/><line x1="550.20" y1="300.95" x2="552.80" y2="299.45"/></g>
<g stroke="#555" stroke-width="1.1" stroke-linecap="round"><line x1="556.00" y1="298.70" x2="556.00" y2="301.70"/><line x1="554.70" y1="299.45" x2="557.30" y2="300.95"/><line x1="554.70" y1="300.95" x2="557.30" y2="299.45"/></g>
<g stroke="#555" stroke-width="1.1" stroke-linecap="round"><line x1="560.50" y1="298.70" x2="560.50" y2="301.70"/><line x1="559.20" y1="299.45" x2="561.80" y2="300.95"/><line x1="559.20" y1="300.95" x2="561.80" y2="299.45"/></g>
<g stroke="#555" stroke-width="1.1" stroke-linecap="round"><line x1="565.00" y1="298.70" x2="565.00" y2="301.70"/><line x1="563.70" y1="299.45" x2="566.30" y2="300.95"/><line x1="563.70" y1="300.95" x2="566.30" y2="299.45"/></g>
<rect x="632.60" y="298.00" width="10.80" height="7.80" fill="none" stroke="#e81c24" stroke-width="1.6"/>
<text x="649.20" y="305.70" font-family='"Liberation Serif", serif' font-size="10.9" font-weight="normal" text-anchor="start" fill="#222">G1 - 20 &#956;g mix / Challenged</text>
<rect x="632.60" y="310.20" width="10.80" height="7.80" fill="none" stroke="#1e8a1e" stroke-width="1.6"/>
<text x="649.20" y="317.90" font-family='"Liberation Serif", serif' font-size="10.9" font-weight="normal" text-anchor="start" fill="#222">G2 - 20 &#956;g Sp3 / Challenged</text>
<rect x="632.60" y="322.40" width="10.80" height="7.80" fill="none" stroke="#26e226" stroke-width="1.6"/>
<text x="649.20" y="330.10" font-family='"Liberation Serif", serif' font-size="10.9" font-weight="normal" text-anchor="start" fill="#222">G3 - 5 &#956;g Sp3 / Challenged</text>
<rect x="632.60" y="334.60" width="10.80" height="7.80" fill="none" stroke="#2222b0" stroke-width="1.6"/>
<text x="649.20" y="342.30" font-family='"Liberation Serif", serif' font-size="10.9" font-weight="normal" text-anchor="start" fill="#222">G4 - 20 &#956;g Pig1 / Challenged</text>
<rect x="632.60" y="346.80" width="10.80" height="7.80" fill="none" stroke="#62a6ee" stroke-width="1.6"/>
<text x="649.20" y="354.50" font-family='"Liberation Serif", serif' font-size="10.9" font-weight="normal" text-anchor="start" fill="#222">G5 - 5 &#956;g Pig1 / Challenged</text>
<rect x="632.60" y="359.00" width="10.80" height="7.80" fill="none" stroke="#141414" stroke-width="1.6"/>
<text x="649.20" y="366.70" font-family='"Liberation Serif", serif' font-size="10.9" font-weight="normal" text-anchor="start" fill="#222">G6 - QuilA / Challenged</text>
<rect x="632.60" y="371.20" width="10.80" height="7.80" fill="none" stroke="#8c8c8c" stroke-width="1.6"/>
<text x="649.20" y="378.90" font-family='"Liberation Serif", serif' font-size="10.9" font-weight="normal" text-anchor="start" fill="#222">G7 - PBS / Challenged</text>
</svg>
</body></html>
